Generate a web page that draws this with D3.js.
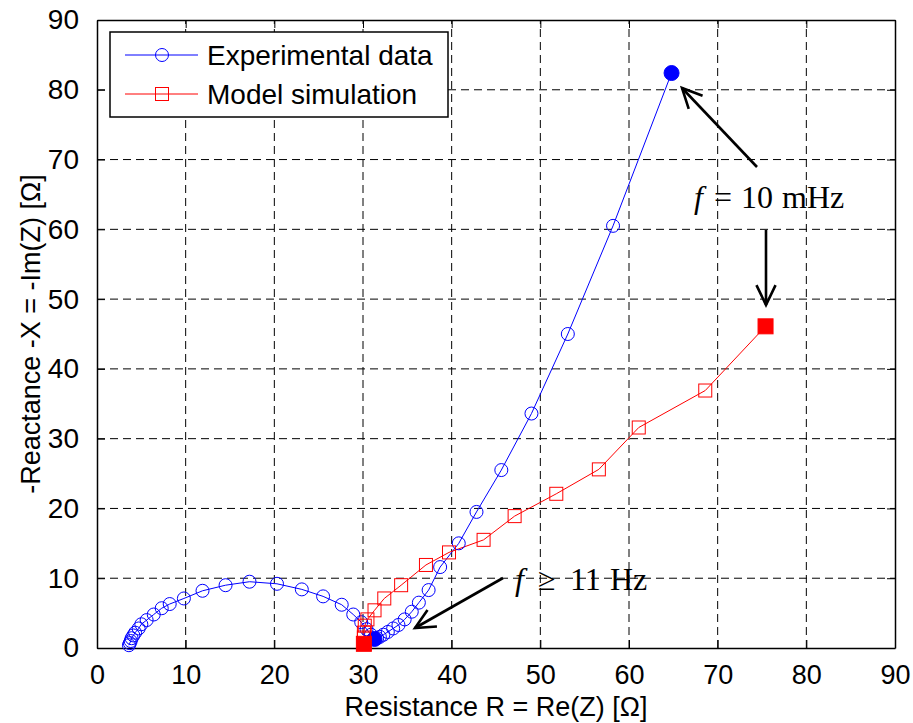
<!DOCTYPE html>
<html>
<head>
<meta charset="utf-8">
<script src="https://cdn.jsdelivr.net/npm/d3@7/dist/d3.min.js"></script>
<style>
  body { margin: 0; background: #fff; }
  svg { display: block; }
</style>
</head>
<body>
<div id="chart"></div>
<script>
// Nyquist data: [Re(Z), -Im(Z)]
const expData = [
  [3.6, 0.4], [3.7, 0.7], [3.8, 1.0], [3.9, 1.4], [4.1, 1.8], [4.3, 2.2], [4.7, 2.8],
  [5.0, 3.4], [5.6, 4.0], [6.4, 4.8], [7.3, 5.7], [8.2, 6.3], [9.8, 7.1], [11.9, 8.2],
  [14.5, 9.0], [17.2, 9.5], [20.3, 9.2], [23.1, 8.4], [25.5, 7.4], [27.6, 6.2], [28.9, 4.8],
  [29.8, 3.7], [30.4, 2.7], [30.9, 1.9], [31.3, 1.3], [31.6, 1.4], [31.9, 1.6], [32.3, 1.9],
  [32.8, 2.3], [33.4, 2.8], [34.0, 3.3], [34.7, 4.1], [35.5, 5.2], [36.3, 6.5], [37.4, 8.3],
  [38.7, 11.6], [40.8, 15.0], [42.8, 19.5], [45.6, 25.5], [49.0, 33.6], [53.1, 45.0],
  [58.2, 60.5], [64.8, 82.4]
];
const expFilled = [24, 42];

const simData = [
  [30.1, 0.6], [30.1, 1.5], [30.1, 2.2], [30.2, 3.2], [30.5, 4.1], [31.3, 5.4], [32.4, 7.1],
  [34.3, 9.0], [37.1, 11.9], [39.7, 13.7], [43.6, 15.5], [47.1, 18.9], [51.8, 22.1],
  [56.6, 25.6], [61.1, 31.6], [68.6, 36.9], [75.4, 46.1]
];
const simFilled = [0, 16];

const xTicks = [0, 10, 20, 30, 40, 50, 60, 70, 80, 90];
const yTicks = [0, 10, 20, 30, 40, 50, 60, 70, 80, 90];
const legendLabels = ['Experimental data', 'Model simulation'];

const width = 913, height = 723;
const svg = d3.select('#chart').append('svg')
  .attr('width', width)
  .attr('height', height);

const x = d3.scaleLinear().domain([0, 90]).range([97, 895]);
const y = d3.scaleLinear().domain([0, 90]).range([648, 20]);

// grid
const grid = svg.append('g')
  .attr('stroke', '#000')
  .attr('stroke-width', 1)
  .attr('stroke-dasharray', '8 5');
grid.selectAll('line.gx')
  .data(xTicks.slice(1, -1))
  .enter().append('line')
  .attr('x1', d => x(d)).attr('x2', d => x(d))
  .attr('y1', y(0)).attr('y2', y(90));
grid.selectAll('line.gy')
  .data(yTicks.slice(1, -1))
  .enter().append('line')
  .attr('class', 'gy')
  .attr('y1', d => y(d)).attr('y2', d => y(d))
  .attr('x1', x(0)).attr('x2', x(90));

// axes (inward ticks on all sides, box style)
const tickFont = '27px "Liberation Sans", Arial, sans-serif';
const axB = svg.append('g').attr('transform', `translate(0,${y(0)})`)
  .call(d3.axisBottom(x).tickValues(xTicks).tickSizeInner(-8).tickSizeOuter(0).tickPadding(16));
const axT = svg.append('g').attr('transform', `translate(0,${y(90)})`)
  .call(d3.axisTop(x).tickValues(xTicks).tickSizeInner(-8).tickSizeOuter(0).tickFormat(''));
const axL = svg.append('g').attr('transform', `translate(${x(0)},0)`)
  .call(d3.axisLeft(y).tickValues(yTicks).tickSizeInner(-8).tickSizeOuter(0).tickPadding(18));
const axR = svg.append('g').attr('transform', `translate(${x(90)},0)`)
  .call(d3.axisRight(y).tickValues(yTicks).tickSizeInner(-8).tickSizeOuter(0).tickFormat(''));
[axB, axT, axL, axR].forEach(a => {
  a.select('.domain').attr('stroke', '#000').attr('stroke-width', 1.5);
  a.selectAll('.tick line').attr('stroke', '#000');
  a.selectAll('text').style('font', tickFont).attr('fill', '#000');
});
axL.selectAll('text').style('font-size', '28px');
axB.selectAll('text').attr('dy', '0.75em');

// axis titles
svg.append('text')
  .attr('x', (x(0) + x(90)) / 2)
  .attr('y', 716)
  .attr('text-anchor', 'middle')
  .style('font', tickFont)
  .text('Resistance R = Re(Z) [Ω]');
svg.append('text')
  .attr('transform', `translate(40,${(y(0) + y(90)) / 2}) rotate(-90)`)
  .attr('text-anchor', 'middle')
  .style('font', tickFont)
  .text('-Reactance -X = -Im(Z) [Ω]');

// series
const line = d3.line().x(d => x(d[0])).y(d => y(d[1]));
svg.append('path')
  .datum(expData)
  .attr('d', line)
  .attr('fill', 'none')
  .attr('stroke', '#0000ff')
  .attr('stroke-width', 1);
svg.append('path')
  .datum(simData)
  .attr('d', line)
  .attr('fill', 'none')
  .attr('stroke', '#ff0000')
  .attr('stroke-width', 1);

svg.append('g').selectAll('circle')
  .data(expData)
  .enter().append('circle')
  .attr('cx', d => x(d[0]))
  .attr('cy', d => y(d[1]))
  .attr('r', (d, i) => expFilled.includes(i) ? 7.5 : 6.5)
  .attr('fill', (d, i) => expFilled.includes(i) ? '#0000ff' : 'none')
  .attr('stroke', '#0000ff')
  .attr('stroke-width', 1);

svg.append('g').selectAll('rect')
  .data(simData)
  .enter().append('rect')
  .attr('x', (d, i) => x(d[0]) - (simFilled.includes(i) ? 7.5 : 6.5))
  .attr('y', (d, i) => y(d[1]) - (simFilled.includes(i) ? 7.5 : 6.5))
  .attr('width', (d, i) => simFilled.includes(i) ? 15 : 13)
  .attr('height', (d, i) => simFilled.includes(i) ? 15 : 13)
  .attr('fill', (d, i) => simFilled.includes(i) ? '#ff0000' : 'none')
  .attr('stroke', '#ff0000')
  .attr('stroke-width', 1);

// annotations
function arrow (x1, y1, x2, y2) {
  const a = Math.atan2(y2 - y1, x2 - x1);
  const hl = 22, ha = Math.PI / 7;
  const g = svg.append('g')
    .attr('stroke', '#000')
    .attr('stroke-width', 2.6)
    .attr('fill', 'none');
  g.append('line').attr('x1', x1).attr('y1', y1).attr('x2', x2).attr('y2', y2);
  g.append('path').attr('d',
    `M${x2 - hl * Math.cos(a - ha)},${y2 - hl * Math.sin(a - ha)}` +
    `L${x2},${y2}` +
    `L${x2 - hl * Math.cos(a + ha)},${y2 - hl * Math.sin(a + ha)}`);
}
arrow(757, 167, 682, 88);
arrow(766, 230, 766, 305);
arrow(503, 578, 415, 628);

// TeX-like labels: each piece placed on its own
const serif = '32px "Liberation Serif", "Times New Roman", serif';
function texLabel (x0, y0, parts) {
  const t = svg.append('text').attr('y', y0).style('font', serif).attr('fill', '#000');
  parts.forEach(p => {
    t.append('tspan')
      .attr('x', x0 + p.dx)
      .style('font-style', p.italic ? 'italic' : 'normal')
      .text(p.s);
  });
}
texLabel(694, 208, [
  { s: 'f', dx: 0, italic: true },
  { s: '=', dx: 20 },
  { s: '10', dx: 47 },
  { s: 'mHz', dx: 88 }
]);
texLabel(515, 590, [
  { s: 'f', dx: 0, italic: true },
  { s: '≥', dx: 23 },
  { s: '11', dx: 55 },
  { s: 'Hz', dx: 95 }
]);

// legend
const leg = svg.append('g');
leg.append('rect')
  .attr('x', 110).attr('y', 32).attr('width', 338).attr('height', 85)
  .attr('fill', '#fff').attr('stroke', '#000').attr('stroke-width', 1.5);
const legRows = leg.selectAll('g.row')
  .data(legendLabels)
  .enter().append('g')
  .attr('transform', (d, i) => `translate(0,${55 + i * 39})`);
legRows.append('line')
  .attr('x1', 125).attr('x2', 198).attr('y1', 0).attr('y2', 0)
  .attr('stroke', (d, i) => i === 0 ? '#0000ff' : '#ff0000');
legRows.filter((d, i) => i === 0).append('circle')
  .attr('cx', 162).attr('cy', 0).attr('r', 6.5)
  .attr('fill', 'none').attr('stroke', '#0000ff');
legRows.filter((d, i) => i === 1).append('rect')
  .attr('x', 155.5).attr('y', -6.5).attr('width', 13).attr('height', 13)
  .attr('fill', 'none').attr('stroke', '#ff0000');
legRows.append('text')
  .attr('x', 207).attr('y', 0).attr('dy', '0.35em')
  .style('font', '28px "Liberation Sans", Arial, sans-serif')
  .text(d => d);
</script>
</body>
</html>
